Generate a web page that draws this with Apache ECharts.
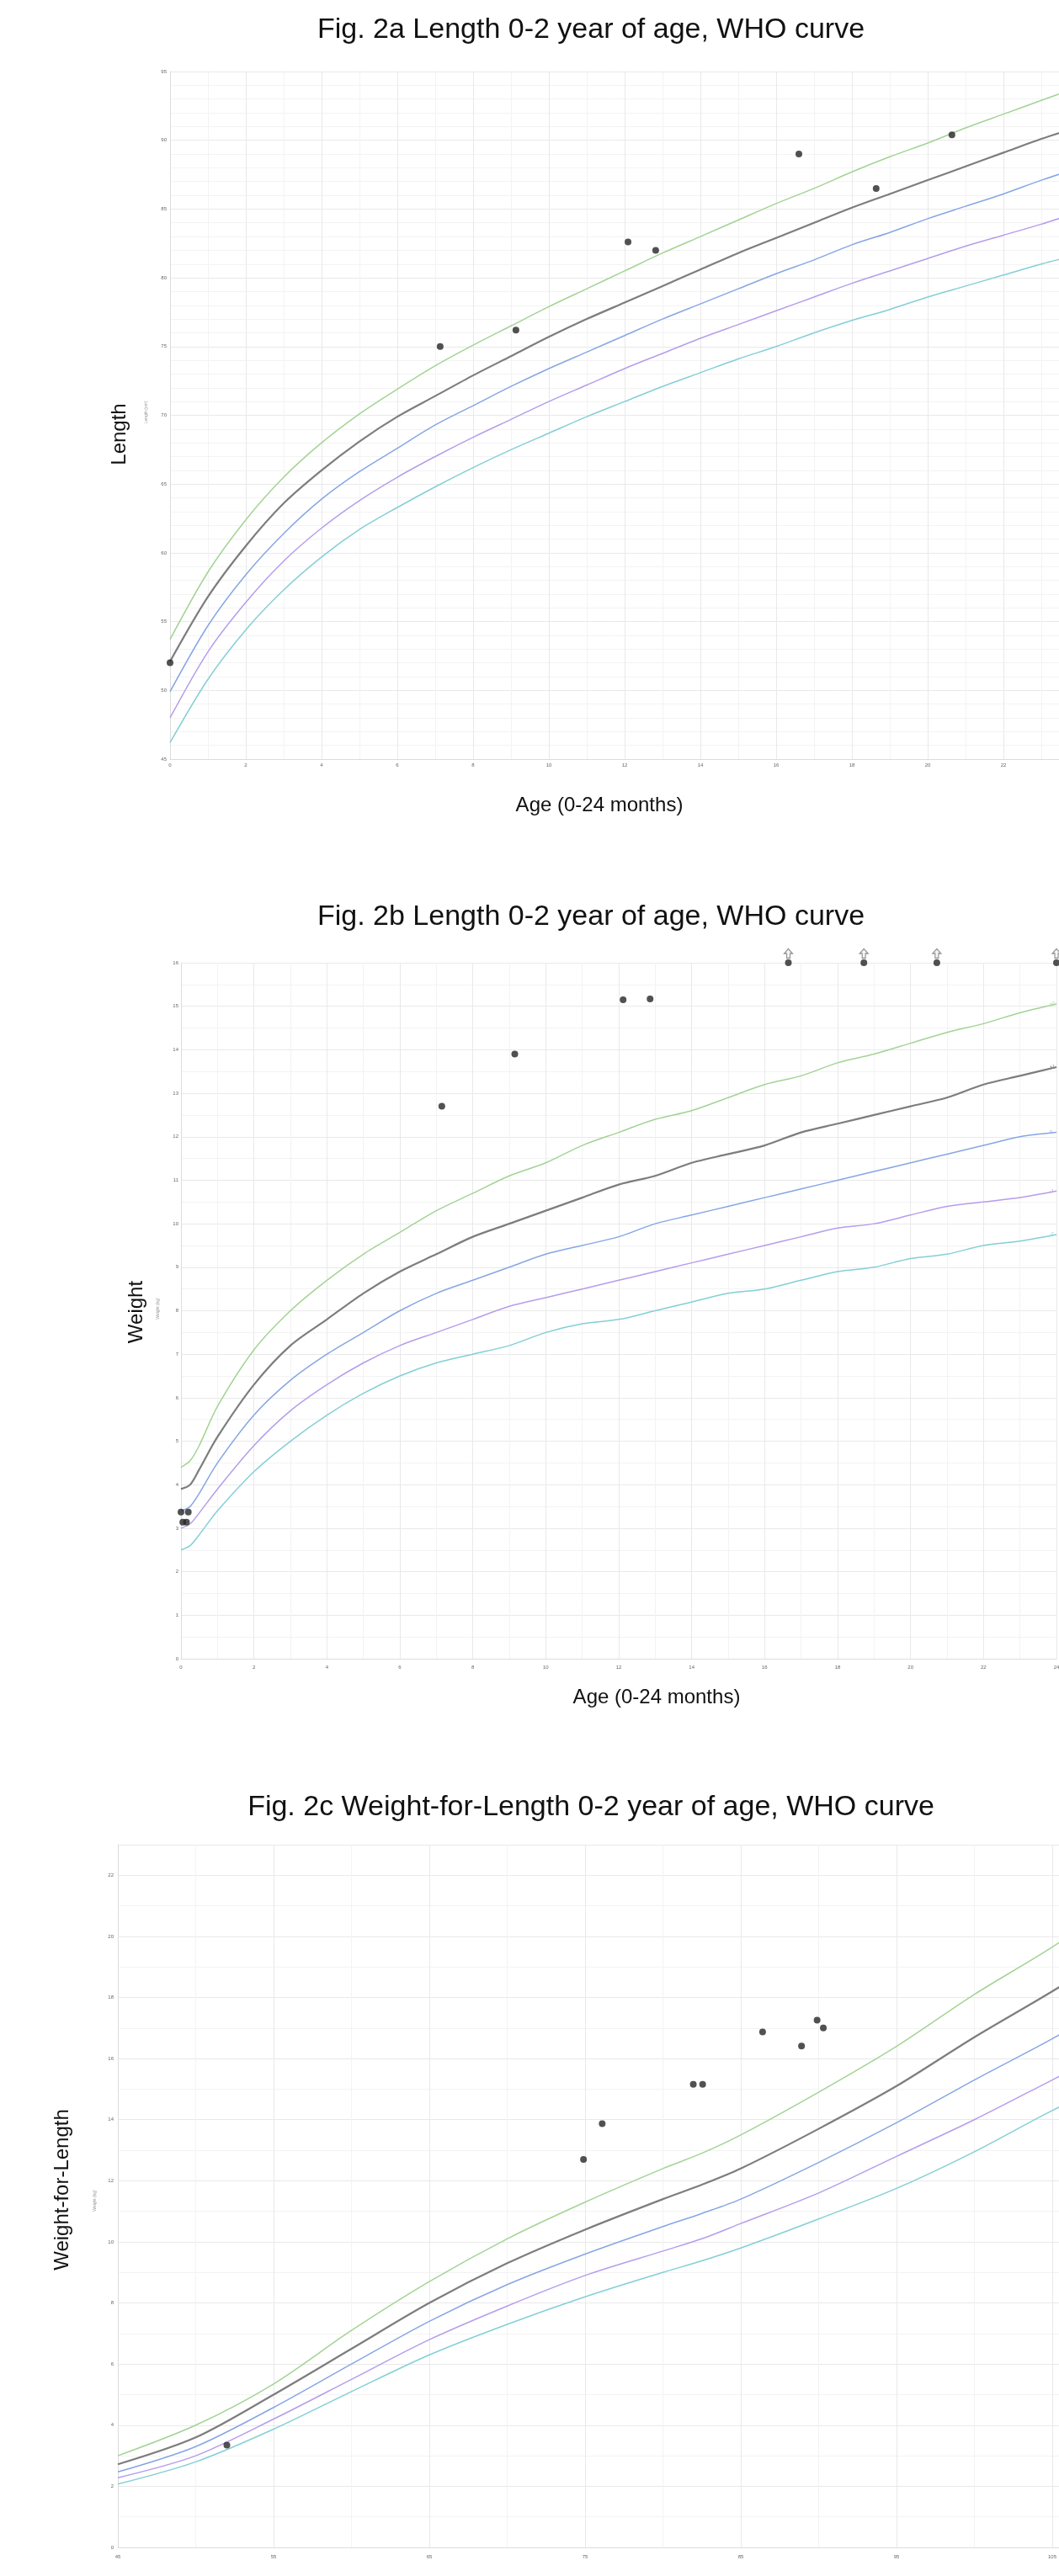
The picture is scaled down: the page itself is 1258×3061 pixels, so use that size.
<!DOCTYPE html>
<html>
<head>
<meta charset="utf-8">
<script src="https://cdn.jsdelivr.net/npm/echarts@6/dist/echarts.min.js"></script>
<style>
html,body{margin:0;padding:0;background:#fff;overflow:hidden}
#chart{width:1258px;height:3061px}
</style>
</head>
<body>
<div id="chart"></div>
<script>
// ---------- Fig. 2a : length-for-age (age in months, length in cm) ----------
const ageMonths = [0,1,2,3,4,5,6,7,8,9,10,11,12,13,14,15,16,17,18,19,20,21,22,23,24];
const lenPlus2  = [53.7,58.6,62.4,65.5,68.0,70.1,71.9,73.6,75.1,76.5,77.9,79.2,80.5,81.8,83.0,84.2,85.4,86.5,87.7,88.8,89.8,90.9,91.9,92.9,93.9];
const lenPlus1  = [52.1,56.8,60.5,63.6,66.0,68.1,69.9,71.4,72.9,74.3,75.7,77.0,78.2,79.4,80.6,81.8,82.9,84.0,85.1,86.1,87.1,88.1,89.1,90.1,91.0];
const lenMedian = [49.9,54.7,58.4,61.4,63.9,65.9,67.6,69.3,70.7,72.1,73.4,74.6,75.8,77.0,78.1,79.2,80.3,81.3,82.4,83.3,84.3,85.2,86.1,87.1,88.0];
const lenMinus1 = [48.0,52.8,56.4,59.4,61.8,63.8,65.5,67.0,68.4,69.7,71.0,72.2,73.4,74.5,75.6,76.6,77.6,78.6,79.6,80.5,81.4,82.3,83.1,83.9,84.8];
const lenMinus2 = [46.2,50.8,54.4,57.3,59.7,61.7,63.3,64.8,66.2,67.5,68.7,69.9,71.0,72.1,73.1,74.1,75.0,76.0,76.9,77.7,78.6,79.4,80.2,81.0,81.7];
const lenPoints = [[0,52.0],[7.13,75.0],[9.13,76.2],[12.09,82.6],[12.82,82.0],[16.6,89.0],[18.64,86.5],[20.64,90.4]];
const lenYTicks = {min:45, max:95, step:5};

// ---------- Fig. 2b : weight-for-age (age in months, weight in kg) ----------
const wAgeMonths = [0,0.25,0.5,1,2,3,4,5,6,7,8,9,10,11,12,13,14,15,16,17,18,19,20,21,22,23,24];
const wtPlus2  = [4.4,4.55,4.9,5.8,7.1,8.0,8.7,9.3,9.8,10.3,10.7,11.1,11.4,11.8,12.1,12.4,12.6,12.9,13.2,13.4,13.7,13.9,14.15,14.4,14.6,14.85,15.05];
const wtPlus1  = [3.9,4.0,4.35,5.1,6.3,7.2,7.8,8.4,8.9,9.3,9.7,10.0,10.3,10.6,10.9,11.1,11.4,11.6,11.8,12.1,12.3,12.5,12.7,12.9,13.2,13.4,13.6];
const wtMedian = [3.4,3.5,3.8,4.5,5.6,6.4,7.0,7.5,8.0,8.4,8.7,9.0,9.3,9.5,9.7,10.0,10.2,10.4,10.6,10.8,11.0,11.2,11.4,11.6,11.8,12.0,12.1];
const wtMinus1 = [3.0,3.1,3.35,3.9,4.9,5.7,6.3,6.8,7.2,7.5,7.8,8.1,8.3,8.5,8.7,8.9,9.1,9.3,9.5,9.7,9.9,10.0,10.2,10.4,10.5,10.6,10.75];
const wtMinus2 = [2.5,2.6,2.85,3.4,4.3,5.0,5.6,6.1,6.5,6.8,7.0,7.2,7.5,7.7,7.8,8.0,8.2,8.4,8.5,8.7,8.9,9.0,9.2,9.3,9.5,9.6,9.75];
const wtPoints = [[0,3.37],[0.2,3.37],[0.05,3.14],[0.15,3.14],[7.15,12.7],[9.15,13.9],[12.12,15.15],[12.86,15.17]];
const wtAboveRangeAges = [16.65,18.72,20.72,24];   // plotted at the top of the axis with an arrow
const wtYTicks = {min:0, max:16, step:1};
const wtEndLabels = ['+2','+1','0','-1','-2'];

// ---------- Fig. 2c : weight-for-length (length in cm, weight in kg) ----------
const wflLength = [45,50,55,60,65,70,75,80,82.5,85,90,95,100,105,110];
const wflPlus2  = [3.0,4.0,5.35,7.1,8.7,10.1,11.3,12.4,12.9,13.5,14.9,16.4,18.1,19.65,21.4];
const wflPlus1  = [2.72,3.6,5.0,6.5,8.0,9.3,10.4,11.4,11.87,12.4,13.7,15.1,16.7,18.2,19.8];
const wflMedian = [2.47,3.3,4.58,6.0,7.4,8.6,9.6,10.5,10.93,11.4,12.6,13.9,15.3,16.65,18.1];
const wflMinus1 = [2.28,3.0,4.2,5.5,6.8,7.9,8.9,9.7,10.1,10.6,11.6,12.8,14.0,15.3,16.6];
const wflMinus2 = [2.07,2.8,3.87,5.1,6.3,7.3,8.2,9.0,9.38,9.8,10.75,11.75,12.95,14.3,15.5];
const wflPoints = [[52,3.35],[74.9,12.7],[76.1,13.87],[81.95,15.16],[82.55,15.16],[86.4,16.87],[88.9,16.41],[89.9,17.26],[90.3,17.0]];
const wflYTicks = {min:0, max:23, step:2};

// ---------- styling ----------
const FONT = 'Liberation Sans, Arial, Helvetica, sans-serif';
const curveColors = ['#a3d394','#7d7d7d','#86a6e4','#b59deb','#83cfd6'];
const curveWidths = [1.5,2.2,1.5,1.5,1.5];

function zip(xs, ys){ return xs.map((x,i)=>[x, ys[i]]); }

function curveSeries(xs, sets, gi, endLabels){
  return sets.map((ys, k) => ({
    type:'line', xAxisIndex:gi, yAxisIndex:gi, data: zip(xs, ys),
    showSymbol:false, smooth:0.3, silent:true,
    lineStyle:{color:curveColors[k], width:curveWidths[k]},
    itemStyle:{color:curveColors[k]},
    endLabel: endLabels ? {show:true, formatter:endLabels[k], fontSize:5, color:curveColors[k], offset:[-16,0], fontFamily:FONT} : {show:false},
    z:2
  }));
}
function dotSeries(points, gi){
  return {type:'scatter', xAxisIndex:gi, yAxisIndex:gi, data:points, symbol:'circle', symbolSize:8,
    itemStyle:{color:'#262626'}, clip:false, z:5};
}
function valAxis(gi, o){
  return Object.assign({
    type:'value', gridIndex:gi,
    axisLine:{show:true, lineStyle:{color:'#dcdcdc', width:1}},
    axisTick:{show:false},
    axisLabel:{fontSize:6, color:'#666', fontFamily:FONT},
    splitLine:{show:true, lineStyle:{color:'#e9e9e9', width:1}},
    minorSplitLine:{show:true, lineStyle:{color:'#f3f3f3', width:1}}
  }, o);
}
function txt(x, y, text, size, rot, color){
  return {type:'text', x:x, y:y, rotation: rot ? Math.PI/2 : 0, silent:true,
    style:{text:text, fontSize:size, fontFamily:FONT, fill:color || '#111', align:'center', verticalAlign:'middle'}};
}

const titleStyle = {fontFamily:FONT, fontSize:34, fontWeight:'normal', color:'#111'};

const option = {
  animation:false,
  backgroundColor:'#fff',
  title:[
    {text:'Fig. 2a Length 0-2 year of age, WHO curve', left:702, top:19, textAlign:'center', padding:0, textStyle:titleStyle},
    {text:'Fig. 2b Length 0-2 year of age, WHO curve', left:702, top:1073, textAlign:'center', padding:0, textStyle:titleStyle},
    {text:'Fig. 2c Weight-for-Length 0-2 year of age, WHO curve', left:702, top:2131, textAlign:'center', padding:0, textStyle:titleStyle}
  ],
  grid:[
    {left:202, top:85, width:1080, height:817, outerBoundsMode:'none', containLabel:false},
    {left:215, top:1144, width:1040, height:827, outerBoundsMode:'none', containLabel:false},
    {left:140, top:2192, width:1202.5, height:835, outerBoundsMode:'none', containLabel:false}
  ],
  xAxis:[
    valAxis(0,{min:0, max:24, interval:2, minorTick:{show:false, splitNumber:2}, axisLabel:{fontSize:6, color:'#666', margin:4, fontFamily:FONT}}),
    valAxis(1,{min:0, max:24, interval:2, minorTick:{show:false, splitNumber:2}, axisLabel:{fontSize:6, color:'#666', margin:7, fontFamily:FONT}}),
    valAxis(2,{min:45, max:110, interval:10, minorTick:{show:false, splitNumber:2}, axisLabel:{fontSize:6, color:'#666', margin:8, fontFamily:FONT, showMaxLabel:false}})
  ],
  yAxis:[
    valAxis(0,{min:lenYTicks.min, max:lenYTicks.max, interval:lenYTicks.step, minorTick:{show:false, splitNumber:5}, axisLabel:{fontSize:6, color:'#666', margin:4, fontFamily:FONT}}),
    valAxis(1,{min:wtYTicks.min, max:wtYTicks.max, interval:wtYTicks.step, minorTick:{show:false, splitNumber:2}, axisLabel:{fontSize:6, color:'#666', margin:3, fontFamily:FONT}}),
    valAxis(2,{min:wflYTicks.min, max:wflYTicks.max, interval:wflYTicks.step, minorTick:{show:false, splitNumber:2}, axisLabel:{fontSize:6, color:'#666', margin:5, fontFamily:FONT, showMaxLabel:false}})
  ],
  graphic:[
    txt(142, 516, 'Length', 24, true),
    txt(174, 490, 'Length (cm)', 5, true, '#999'),
    txt(712, 957, 'Age (0-24 months)', 24, false),
    txt(162, 1559, 'Weight', 24, true),
    txt(188, 1555, 'Weight (kg)', 5, true, '#999'),
    txt(780, 2017, 'Age (0-24 months)', 24, false),
    txt(74, 2602, 'Weight-for-Length', 24, true),
    txt(113, 2615, 'Weight (kg)', 5, true, '#999')
  ],
  series:[].concat(
    curveSeries(ageMonths, [lenPlus2,lenPlus1,lenMedian,lenMinus1,lenMinus2], 0, null),
    [dotSeries(lenPoints, 0)],
    curveSeries(wAgeMonths, [wtPlus2,wtPlus1,wtMedian,wtMinus1,wtMinus2], 1, wtEndLabels),
    [dotSeries(wtPoints, 1),
     dotSeries(wtAboveRangeAges.map(a=>[a, wtYTicks.max]), 1),
     {type:'scatter', xAxisIndex:1, yAxisIndex:1, clip:false, z:6,
      data: wtAboveRangeAges.map(a=>[a, wtYTicks.max]),
      symbol:'path://M5,0 L10,5 L7,5 L7,10 L3,10 L3,5 L0,5 Z', symbolSize:[10,11], symbolOffset:[0,-11],
      itemStyle:{color:'#f2f2f2', borderColor:'#7a7a7a', borderWidth:1.2}}],
    curveSeries(wflLength, [wflPlus2,wflPlus1,wflMedian,wflMinus1,wflMinus2], 2, null),
    [dotSeries(wflPoints, 2)]
  )
};

const chart = echarts.init(document.getElementById('chart'), null, {renderer:'canvas'});
chart.setOption(option);
</script>
</body>
</html>
